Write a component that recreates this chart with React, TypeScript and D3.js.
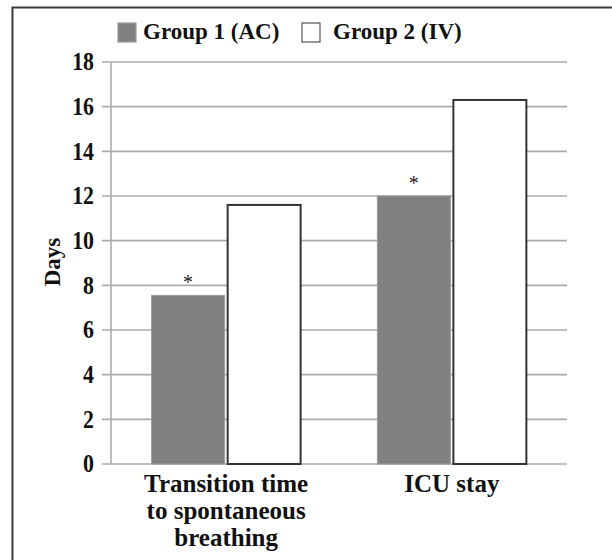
import React, { useEffect, useRef } from 'react';
import * as d3 from 'd3';

const categories = ['Transition time to spontaneous breathing', 'ICU stay'];
const categoryLines = [['Transition time', 'to spontaneous', 'breathing'], ['ICU stay']];
const seriesNames = ['Group 1 (AC)', 'Group 2 (IV)'];
const group1Values = [7.55, 12.0];
const group2Values = [11.6, 16.3];
const significant = [true, true];
const yTicks = [0, 2, 4, 6, 8, 10, 12, 14, 16, 18];

const W = 612;
const H = 560;
const FONT = '"Liberation Serif", "Times New Roman", serif';

const App: React.FC = () => {
  const svgRef = useRef<SVGSVGElement>(null);

  useEffect(() => {
    if (!svgRef.current) return;
    const svg = d3.select(svgRef.current);
    svg.selectAll('*').remove();

    const left = 111;
    const right = 567;
    const top = 62;
    const bottom = 464;

    const x0 = d3.scaleBand<string>()
      .domain(categories)
      .range([left, right])
      .paddingInner(0.34)
      .paddingOuter(0.18);

    const x1 = d3.scaleBand<string>()
      .domain(seriesNames)
      .range([0, x0.bandwidth()])
      .paddingInner(0.04);

    const y = d3.scaleLinear().domain([0, 18]).range([bottom, top]);

    // frame
    svg.append('path')
      .attr('d', `M12.5,${H} L12.5,7.5 L${W},7.5`)
      .attr('fill', 'none')
      .attr('stroke', '#3a3a3a')
      .attr('stroke-width', 2);

    // gridlines
    svg.append('g')
      .selectAll('line')
      .data(yTicks)
      .enter()
      .append('line')
      .attr('x1', left - 9)
      .attr('x2', right)
      .attr('y1', d => y(d))
      .attr('y2', d => y(d))
      .attr('stroke', '#ababab')
      .attr('stroke-width', 1.6);

    // y axis line
    svg.append('line')
      .attr('x1', left)
      .attr('x2', left)
      .attr('y1', top)
      .attr('y2', bottom)
      .attr('stroke', '#ababab')
      .attr('stroke-width', 1.6);

    // tick labels (reference glyphs are a bit taller than wide)
    svg.append('g')
      .selectAll('text')
      .data(yTicks)
      .enter()
      .append('text')
      .attr('transform', d => `translate(94, ${y(d)}) scale(0.95, 1.08)`)
      .attr('dy', '0.34em')
      .attr('text-anchor', 'end')
      .style('font-family', FONT)
      .style('font-weight', 'bold')
      .style('font-size', '23px')
      .style('fill', '#111')
      .text(d => d);

    // y label
    svg.append('text')
      .attr('transform', `translate(60, 262) rotate(-90)`)
      .attr('text-anchor', 'middle')
      .style('font-family', FONT)
      .style('font-weight', 'bold')
      .style('font-size', '23px')
      .style('fill', '#111')
      .text('Days');

    // bars
    const groups = svg.append('g')
      .selectAll('g')
      .data(categories)
      .enter()
      .append('g')
      .attr('transform', d => `translate(${x0(d)}, 0)`);

    groups.append('rect')
      .attr('x', x1(seriesNames[0]) || 0)
      .attr('width', x1.bandwidth())
      .attr('y', (_, i) => y(group1Values[i]))
      .attr('height', (_, i) => bottom - y(group1Values[i]))
      .attr('fill', '#808080')
      .attr('stroke', '#9a9a9a')
      .attr('stroke-width', 1);

    groups.append('rect')
      .attr('x', x1(seriesNames[1]) || 0)
      .attr('width', x1.bandwidth())
      .attr('y', (_, i) => y(group2Values[i]))
      .attr('height', (_, i) => bottom - y(group2Values[i]))
      .attr('fill', '#ffffff')
      .attr('stroke', '#333333')
      .attr('stroke-width', 2);

    groups.filter((_, i) => significant[i])
      .append('text')
      .attr('x', (x1(seriesNames[0]) || 0) + x1.bandwidth() / 2)
      .attr('y', (_, i) => y(group1Values[i]) - 6)
      .attr('text-anchor', 'middle')
      .style('font-family', FONT)
      .style('font-size', '20px')
      .style('fill', '#222')
      .text('*');

    // category labels
    groups.each(function (_, i) {
      const t = d3.select(this).append('text')
        .attr('text-anchor', 'middle')
        .style('font-family', FONT)
        .style('font-weight', 'bold')
        .style('font-size', '25px')
        .style('fill', '#111');
      categoryLines[i].forEach((line, j) => {
        t.append('tspan')
          .attr('x', x0.bandwidth() / 2)
          .attr('y', 492 + j * 27)
          .text(line);
      });
    });

    // legend
    const legendX = [118, 302];
    const legend = svg.append('g')
      .selectAll('g')
      .data(seriesNames)
      .enter()
      .append('g')
      .attr('transform', (_, i) => `translate(${legendX[i]}, 23)`);

    legend.append('rect')
      .attr('width', 18)
      .attr('height', 19)
      .attr('fill', (_, i) => (i === 0 ? '#808080' : '#ffffff'))
      .attr('stroke', (_, i) => (i === 0 ? '#9a9a9a' : '#555'))
      .attr('stroke-width', 1.2);

    legend.append('text')
      .attr('x', (_, i) => (i === 0 ? 25 : 31))
      .attr('y', 16)
      .style('font-family', FONT)
      .style('font-weight', 'bold')
      .style('font-size', '23px')
      .style('fill', '#111')
      .text(d => d);
  }, []);

  return (
    <svg
      ref={svgRef}
      width={W}
      height={H}
      style={{ position: 'absolute', left: 0, top: 0, background: '#fff' }}
    />
  );
};

export default App;
